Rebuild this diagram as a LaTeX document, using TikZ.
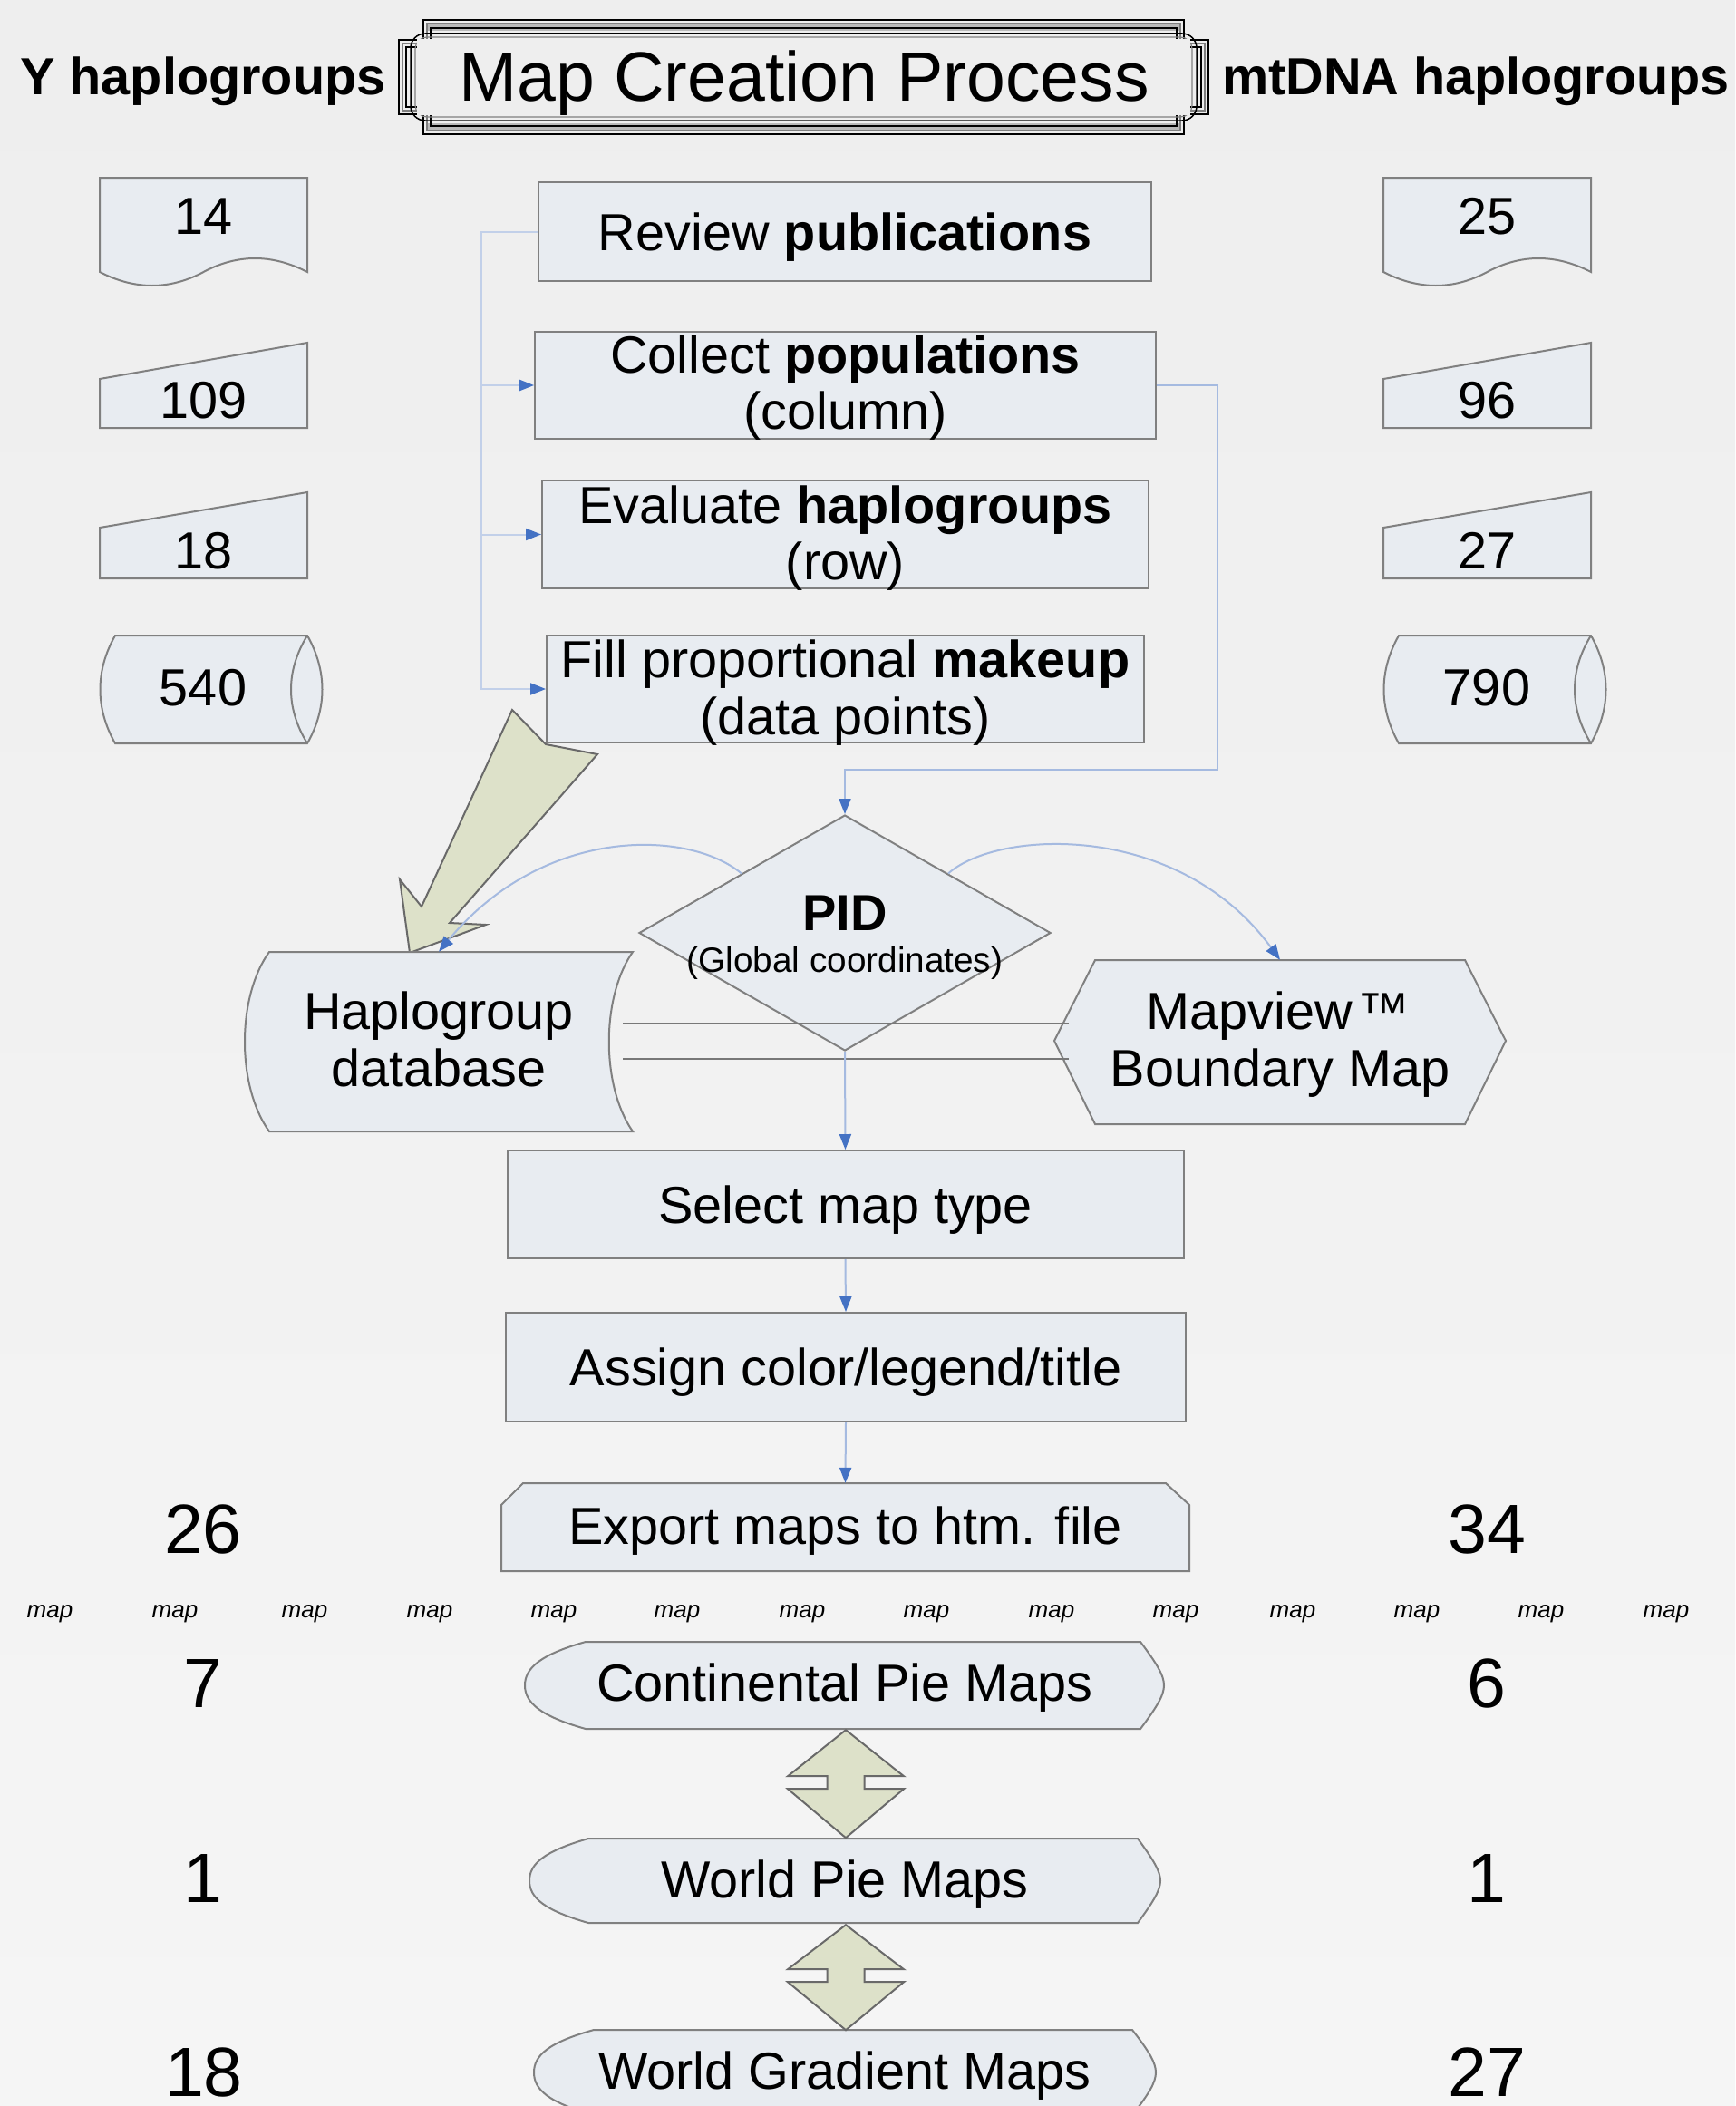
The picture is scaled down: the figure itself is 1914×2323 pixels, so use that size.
\documentclass[tikz,border=0pt]{standalone}
\usepackage{fontspec}
\setmainfont{Liberation Sans}
\usetikzlibrary{arrows.meta,calc,shapes.geometric}

\definecolor{bgtop}{RGB}{238,238,238}
\definecolor{bgbot}{RGB}{245,245,245}
\definecolor{boxfill}{RGB}{232,236,241}
\definecolor{boxline}{RGB}{128,128,128}
\definecolor{olivefill}{RGB}{221,225,201}
\definecolor{oliveline}{RGB}{105,105,105}
\definecolor{arrblue}{RGB}{68,114,196}
\definecolor{lnblue}{RGB}{165,186,224}
\definecolor{fbblue}{RGB}{194,208,233}
\definecolor{gline}{RGB}{120,120,120}

\newcommand\mainfs{\fontsize{57.6pt}{62pt}\selectfont}
\newcommand\bigfs{\fontsize{77pt}{82pt}\selectfont}
\newcommand\mapfs{\fontsize{26pt}{28pt}\selectfont\itshape}
\newcommand\gcfs{\fontsize{38.7pt}{42pt}\selectfont}
\newcommand\pidfs{\fontsize{56pt}{60pt}\selectfont\bfseries}

\tikzset{
  shp/.style={draw=boxline, fill=boxfill, line width=2pt, line join=miter},
  boxn/.style={shp, rectangle, inner sep=0pt, font=\mainfs, text height=41pt, text depth=0pt},
  ghost/.style={rectangle, inner sep=0pt},
  lab/.style={inner sep=0pt, font=\mainfs, text height=41pt, text depth=0pt},
  labbig/.style={inner sep=0pt, font=\bigfs, text height=55pt, text depth=0pt},
  labmap/.style={inner sep=0pt, font=\mapfs, text height=13.5pt, text depth=0pt},
  bl/.style={draw=lnblue, line width=2pt, -{Triangle[length=17pt,width=13pt,color=arrblue]}},
  fbl/.style={draw=fbblue, line width=2pt},
  gl/.style={draw=gline, line width=2.5pt},
  oliv/.style={draw=oliveline, fill=olivefill, line width=2pt, line join=miter},
}

\newcommand\colshapes{%
  \draw[shp] (110,196) -- (339,196) -- (339,300)
    .. controls (300,280) and (262,280) .. (224.5,300)
    .. controls (187,320) and (149,320) .. (110,300) -- cycle;
  \draw[shp] (110,418) -- (339,378) -- (339,472) -- (110,472) -- cycle;
  \draw[shp] (110,582) -- (339,543) -- (339,638) -- (110,638) -- cycle;
  \draw[shp] (127,701) -- (339,701) .. controls (361,740) and (361,781) .. (339,820)
    -- (127,820) .. controls (105,781) and (105,740) .. (127,701) -- cycle;
  \draw[draw=boxline, line width=2pt] (339,701) .. controls (315,740) and (315,781) .. (339,820);
}

\begin{document}
\begin{tikzpicture}[x=1pt,y=-1pt]
\useasboundingbox (0,0) rectangle (1914,2323);
\clip (0,0) rectangle (1914,2323);
\shade[top color=bgtop, bottom color=bgbot] (0,0) rectangle (1914,2323);

% ---------- title frame ----------
\fill[gray!55] (471,26) rectangle (1302,34);
\fill[gray!55] (471,136) rectangle (1302,144);
\draw[black, line width=1.6pt] (467,22) -- (1306,22) -- (1306,44) -- (1333,44) -- (1333,126) -- (1306,126) -- (1306,148) -- (467,148) -- (467,126) -- (440,126) -- (440,44) -- (467,44) -- cycle;
\draw[gray, line width=2.5pt] (471,26) -- (1302,26) -- (1302,48) -- (1329,48) -- (1329,122) -- (1302,122) -- (1302,144) -- (471,144) -- (471,122) -- (444,122) -- (444,48) -- (471,48) -- cycle;
\draw[black, line width=1.3pt] (475,31) -- (1298,31) -- (1298,52) -- (1325,52) -- (1325,118) -- (1298,118) -- (1298,139) -- (475,139) -- (475,118) -- (448,118) -- (448,52) -- (475,52) -- cycle;
\draw[black, line width=1.5pt, rounded corners=16pt] (453,37) rectangle (1320,133);
\draw[gray, line width=1.2pt, rounded corners=13pt] (458,41) rectangle (1315,129);
\fill[bgtop] (460,43) rectangle (1313,127);

\node[labbig] (title) at (887,84) {Map Creation Process};
\node[lab, font=\mainfs\bfseries] (yh) at (224,84) {Y haplogroups};
\node[lab, font=\mainfs\bfseries] (mh) at (1628,84) {mtDNA haplogroups};

% ---------- side columns ----------
\colshapes
\node[lab] (n14) at (224.5,238) {14};
\node[lab] (n109) at (224.5,441) {109};
\node[lab] (n18) at (224.5,607) {18};
\node[lab] (n540) at (224,758) {540};
\begin{scope}[shift={(1416,0)}]
  \colshapes
  \node[lab] (n25) at (224.5,238) {25};
  \node[lab] (n96) at (224.5,441) {96};
  \node[lab] (n27) at (224.5,607) {27};
  \node[lab] (n790) at (224,758) {790};
\end{scope}

% ---------- upper process boxes ----------
\node[boxn, minimum width=676pt, minimum height=109pt] (rev) at (932,255.5) {Review \textbf{publications}};
\node[boxn, minimum width=685pt, minimum height=118pt] (col) at (932.5,425) {};
\node[lab] (colA) at (932.5,391) {Collect \textbf{populations}};
\node[lab] (colB) at (932.5,453) {(column)};
\node[boxn, minimum width=669pt, minimum height=119pt] (eva) at (932.5,589.5) {};
\node[lab] (evaA) at (932.5,557) {Evaluate \textbf{haplogroups}};
\node[lab] (evaB) at (932.5,619) {(row)};
\node[boxn, minimum width=659pt, minimum height=118pt] (fil) at (932.5,760) {};
\node[lab] (filA) at (932.5,727) {Fill proportional \textbf{makeup}};
\node[lab] (filB) at (932.5,790) {(data points)};

% feedback lines on the left
\coordinate (fb) at ([xshift=-62pt]rev.west);
\draw[fbl, -{Triangle[length=17pt,width=13pt,color=arrblue]}] (rev.west) -- (fb) |- (fil.west);
\draw[fbl, -{Triangle[length=17pt,width=13pt,color=arrblue]}] (fb |- col.west) -- (col.west);
\draw[fbl, -{Triangle[length=17pt,width=13pt,color=arrblue]}] (fb |- eva.west) -- (eva.west);

% ---------- big olive arrow ----------
\begin{scope}[shift={(fil.south west)}]
  \draw[oliv] (-37,-37) -- (0,1) -- (57,12) -- (-106,198) -- (-66,200) -- (-150,231) -- (-161,150) -- (-137,180) -- cycle;
\end{scope}

% ---------- PID, database, mapview ----------
\node[shp, diamond, minimum width=454pt, minimum height=260pt, inner sep=0pt] (pid) at (932,1029) {};
\node[inner sep=0pt, font=\pidfs, text height=40pt, text depth=0pt] (pidA) at (932,1006) {PID};
\node[inner sep=0pt, font=\gcfs, text height=27.7pt, text depth=0pt] (pidB) at (932,1059) {(Global coordinates)};

\draw[bl] (col.east) -- ++(67,0) |- ([yshift=49pt]pid.north) -- (pid.north);

\node[ghost, minimum width=428pt, minimum height=198pt] (hdb) at (484,1149) {};
\draw[shp] (297,1050) -- (698,1050) .. controls (663,1100) and (663,1198) .. (698,1248)
  -- (297,1248) .. controls (261,1198) and (261,1100) .. (297,1050) -- cycle;
\node[lab] (hdbA) at (484,1115) {Haplogroup};
\node[lab] (hdbB) at (484,1178) {database};

\node[ghost, minimum width=498pt, minimum height=181pt] (mv) at (1412,1149.5) {};
\draw[shp] (1208,1059) -- (1616,1059) -- (1661,1148) -- (1616,1240) -- (1208,1240) -- (1163,1148) -- cycle;
\node[lab] (mvA) at (1410,1115) {Mapview\kern6pt™};
\node[lab] (mvB) at (1412,1178) {Boundary Map};

\draw[gl] ([shift={(-11,-20)}]hdb.east) -- ([shift={(16,-20.5)}]mv.west);
\draw[gl] ([shift={(-11,19)}]hdb.east) -- ([shift={(16,18.5)}]mv.west);

\draw[bl] ($(pid.north)!0.5!(pid.west)$) .. controls (760,915) and (600,910) .. (hdb.north);
\draw[bl] ($(pid.north)!0.5!(pid.east)$) .. controls (1100,915) and (1300,905) .. (mv.north);

% ---------- lower process ----------
\node[boxn, minimum width=746pt, minimum height=119pt] (sel) at (932.5,1328.5) {Select map type};
\node[boxn, minimum width=750pt, minimum height=120pt] (asg) at (933,1508) {Assign color/legend/title};

\node[ghost, minimum width=759pt, minimum height=97pt] (exp) at (932.5,1684.5) {};
\draw[shp] (553,1660) -- (577,1636) -- (1286,1636) -- (1312,1660) -- (1312,1733) -- (553,1733) -- cycle;
\node[lab] (expA) at (932.5,1683) {Export maps to htm. file};

\draw[bl] (pid.south) -- (sel.north);
\draw[bl] (sel.south) -- (asg.north);
\draw[bl] (asg.south) -- (exp.north);

% map labels
\foreach \xx [count=\i] in {55,193,336,474,611,747,885,1022,1160,1297,1426,1563,1700,1838}
  \node[labmap] (map\i) at (\xx,1778) {map};

% display shapes
\node[ghost, minimum width=705pt, minimum height=96pt] (cpm) at (931.5,1859) {};
\draw[shp] (646,1811) -- (1258,1811) .. controls (1276,1835) and (1284,1848) .. (1284,1859)
  .. controls (1284,1870) and (1276,1883) .. (1258,1907) -- (646,1907)
  .. controls (596,1893) and (579,1878) .. (579,1859) .. controls (579,1840) and (596,1825) .. (646,1811) -- cycle;
\node[lab] (cpmA) at (932,1856) {Continental Pie Maps};

\node[ghost, minimum width=696pt, minimum height=93pt] (wpm) at (932,2074.5) {};
\draw[shp] (649,2028) -- (1255,2028) .. controls (1272,2051) and (1280,2064) .. (1280,2074.5)
  .. controls (1280,2085) and (1272,2098) .. (1255,2121) -- (649,2121)
  .. controls (600,2107) and (584,2093) .. (584,2074.5) .. controls (584,2056) and (600,2042) .. (649,2028) -- cycle;
\node[lab] (wpmA) at (932,2073) {World Pie Maps};

\node[ghost, minimum width=686pt, minimum height=94pt] (wgm) at (932,2286) {};
\draw[shp] (655,2239) -- (1249,2239) .. controls (1267,2262) and (1275,2275) .. (1275,2286)
  .. controls (1275,2297) and (1267,2310) .. (1249,2333) -- (655,2333)
  .. controls (605,2319) and (589,2305) .. (589,2286) .. controls (589,2267) and (605,2253) .. (655,2239) -- cycle;
\node[lab] (wgmA) at (932,2284) {World Gradient Maps};

% olive double arrows
\begin{scope}[shift={(cpm.south)}]
  \draw[oliv] (1.5,1) -- (65.5,52) -- (22,52) -- (22,66) -- (65.5,66) -- (1.5,120) -- (-62.5,66) -- (-19,66) -- (-19,52) -- (-62.5,52) -- cycle;
\end{scope}
\begin{scope}[shift={(wpm.south)}]
  \draw[oliv] (1,2) -- (65,51) -- (21.5,51) -- (21.5,65) -- (65,65) -- (1,118) -- (-63,65) -- (-19.5,65) -- (-19.5,51) -- (-63,51) -- cycle;
\end{scope}

% counts
\node[labbig] (c26) at (224,1686) {26};
\node[labbig] (c34) at (1640,1686) {34};
\node[labbig] (c7) at (224,1856) {7};
\node[labbig] (c6) at (1640,1856) {6};
\node[labbig] (c1a) at (224,2071) {1};
\node[labbig] (c1b) at (1640,2071) {1};
\node[labbig] (c18) at (225,2285) {18};
\node[labbig] (c27) at (1640,2285) {27};
\end{tikzpicture}
\end{document}
